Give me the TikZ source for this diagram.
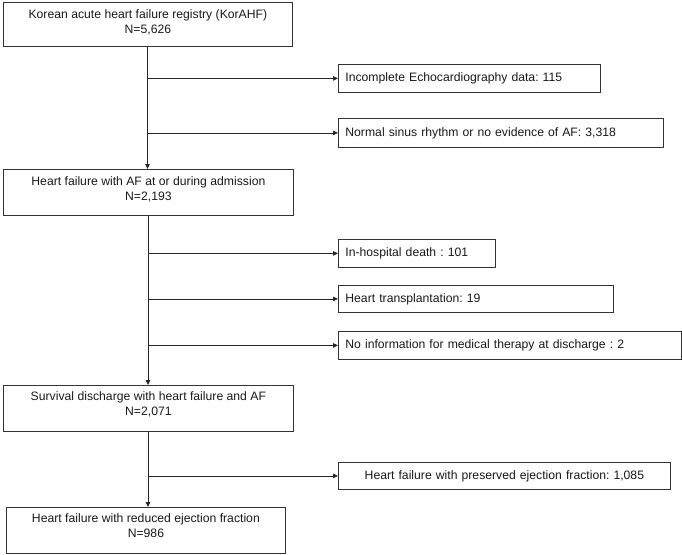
\documentclass[tikz,border=0pt]{standalone}
\usepackage{fontspec}
\setmainfont{Liberation Sans}
\usetikzlibrary{arrows.meta,calc}
\frenchspacing
\begin{document}
\begin{tikzpicture}[x=1pt,y=-1pt,
  every node/.style={font=\frenchspacing\fontsize{12.2}{14.5}\selectfont, text=black!90},
  mainbox/.style={draw=black!80, line width=0.8pt, inner sep=0pt, anchor=north west},
  maintext/.style={anchor=north, align=center, inner sep=0pt},
  sidebox/.style={draw=black!80, line width=0.8pt, inner xsep=7pt, inner ysep=0pt, anchor=north west, align=left},
  arr/.style={draw=black!85, line width=0.8pt, -{Triangle[length=5pt,width=4.5pt]}}]
\useasboundingbox (0,0) rectangle (682,554);

% main boxes
\node[mainbox, minimum width=289pt, minimum height=44pt] (b1) at (3,2) {};
\node[maintext] (t1) at ([yshift=-7.5pt]b1.north) {Korean acute heart failure registry (KorAHF)\\N=5,626};

\node[mainbox, minimum width=290pt, minimum height=46pt] (b2) at (3,169) {};
\node[maintext] (t2) at ([yshift=-7.5pt]b2.north) {Heart failure with AF at or during admission\\N=2,193};

\node[mainbox, minimum width=290pt, minimum height=46pt] (b3) at (3,385) {};
\node[maintext] (t3) at ([yshift=-6.5pt]b3.north) {Survival discharge with heart failure and AF\\N=2,071};

\node[mainbox, minimum width=279pt, minimum height=46pt] (b4) at (6,507) {};
\node[maintext] (t4) at ([yshift=-6.5pt]b4.north) {Heart failure with reduced ejection fraction\\N=986};

% side boxes
\node[sidebox, text width=248pt, minimum height=28pt] (s1) at (338,64) {Incomplete Echocardiography data: 115};
\node[sidebox, text width=311pt, minimum height=29pt] (s2) at (338,118) {Normal sinus rhythm or no evidence of AF: 3,318};
\node[sidebox, text width=143pt, minimum height=28pt] (s3) at (338,239) {In-hospital death : 101};
\node[sidebox, text width=261pt, minimum height=27pt] (s4) at (338,285) {Heart transplantation: 19};
\node[sidebox, text width=329pt, minimum height=28pt] (s5) at (338,331) {No information for medical therapy at discharge : 2};
\node[sidebox, text width=318pt, minimum height=27pt, align=center] (s6) at (338,462) {Heart failure with preserved ejection fraction: 1,085};

% connectors
\coordinate (v1) at (147.5,0);
\coordinate (v2) at (148,0);
\draw[arr] (b1.south -| v1) -- (b2.north -| v1);
\draw[arr] (s1.west -| v1) -- (s1.west);
\draw[arr] (s2.west -| v1) -- (s2.west);

\draw[arr] (b2.south -| v2) -- (b3.north -| v2);
\draw[arr] (s3.west -| v2) -- (s3.west);
\draw[arr] (s4.west -| v2) -- (s4.west);
\draw[arr] (s5.west -| v2) -- (s5.west);

\draw[arr] (b3.south -| v2) -- (b4.north -| v2);
\draw[arr] (s6.west -| v2) -- (s6.west);
\end{tikzpicture}
\end{document}
